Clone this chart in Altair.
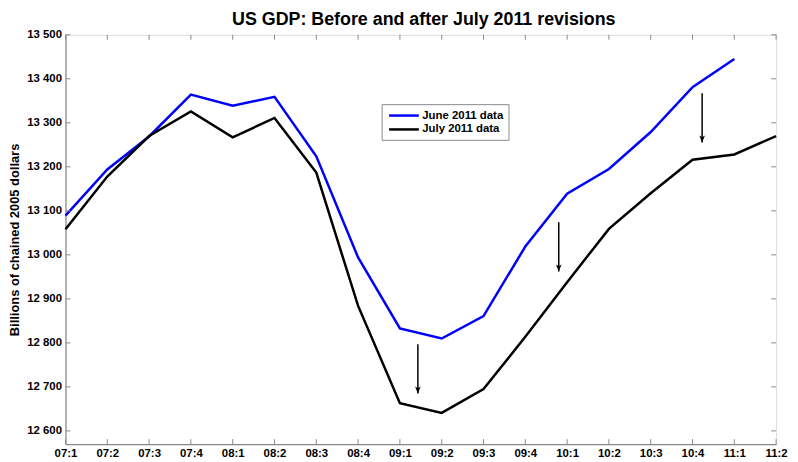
import json
import altair as alt
import pandas as pd

quarters = ["07:1", "07:2", "07:3", "07:4", "08:1", "08:2", "08:3", "08:4",
            "09:1", "09:2", "09:3", "09:4", "10:1", "10:2", "10:3", "10:4",
            "11:1", "11:2"]
june_2011 = [13089, 13194, 13269, 13364, 13339, 13359, 13224, 12994, 12833,
             12810, 12861, 13019, 13139, 13195, 13279, 13381, 13445]
july_2011 = [13058, 13178, 13270, 13326, 13267, 13311, 13187, 12884, 12663,
             12641, 12695, 12814, 12938, 13059, 13140, 13216, 13228, 13270]
series_names = ["June 2011 data", "July 2011 data"]
series_colors = ["#0000ff", "#000000"]

y_ticks = list(range(12600, 13501, 100))

# arrows: position (quarter index), start value, end value
arrow_x = [8.43, 11.8, 15.23]
arrow_from = [12797, 13074, 13367]
arrow_to = [12685, 12962, 13255]

rows = []
for i, v in enumerate(june_2011):
    rows.append({"idx": i, "value": v, "series": series_names[0]})
for i, v in enumerate(july_2011):
    rows.append({"idx": i, "value": v, "series": series_names[1]})
df = pd.DataFrame(rows)
arrows = pd.DataFrame({"ax": arrow_x, "y0": arrow_from, "y1": arrow_to})
ytick_df = pd.DataFrame({"yt": y_ticks})
xtick_df = pd.DataFrame({"xt": list(range(len(quarters)))})

W, H = 717, 413
FONT = "Liberation Sans"
GRAY = "#8a8a8a"
YTITLE = "Billions of chained 2005 dollars"

xscale = alt.Scale(domain=[0, len(quarters) - 1], nice=False, zero=False)
yscale = alt.Scale(domain=[12570, 13500], nice=False, zero=False)
label_expr = json.dumps(quarters) + "[datum.value]"

xaxis = alt.Axis(values=list(range(len(quarters))), labelExpr=label_expr,
                 ticks=False, labelPadding=3, labelFontSize=11.5,
                 labelFontWeight="bold", labelFont=FONT,
                 labelColor="#000", domainColor=GRAY, domainWidth=1.2,
                 grid=False, title=None, labelFlush=False)
yaxis = alt.Axis(values=y_ticks,
                 labelExpr="replace(format(datum.value, ','), ',', ' ')",
                 ticks=False, labelPadding=4, labelFontSize=11.5,
                 labelFontWeight="bold", labelFont=FONT,
                 labelColor="#000", domainColor=GRAY, domainWidth=1.2,
                 grid=False, title=YTITLE, titleFontSize=13, titleFont=FONT,
                 titleFontWeight="bold", titleColor="#000", titlePadding=5)

lines = alt.Chart(df).mark_line(strokeWidth=2.5).encode(
    x=alt.X("idx:Q", scale=xscale, axis=xaxis, title=None),
    y=alt.Y("value:Q", scale=yscale, axis=yaxis, title=YTITLE),
    color=alt.Color("series:N",
                    scale=alt.Scale(domain=series_names, range=series_colors),
                    legend=alt.Legend(orient="none", legendX=319, legendY=70,
                                      title=None,
                                      symbolType="M-3,0L3,0",
                                      symbolSize=100, symbolStrokeWidth=2.5,
                                      symbolOffset=11,
                                      labelFontSize=11.5, labelFontWeight="bold",
                                      labelFont=FONT,
                                      labelColor="#000", strokeColor=GRAY,
                                      fillColor="white", padding=5,
                                      rowPadding=2, labelOffset=12)),
    order="idx:Q",
)

shafts = alt.Chart(arrows).mark_rule(strokeWidth=1.5, color="#000").encode(
    x=alt.X("ax:Q", scale=xscale, title=None),
    y=alt.Y("y0:Q", scale=yscale, title=YTITLE),
    y2="y1:Q",
)
heads = alt.Chart(arrows).mark_point(
    shape="M-0.4,-1L0,0L0.4,-1L0,-0.75Z", size=200, filled=True,
    color="#000", opacity=1).encode(
    x=alt.X("ax:Q", scale=xscale, title=None),
    y=alt.Y("y1:Q", scale=yscale, title=YTITLE),
)

tl = alt.Chart(ytick_df).mark_rule(color=GRAY, strokeWidth=1).encode(
    y=alt.Y("yt:Q", scale=yscale, title=YTITLE), x=alt.value(0), x2=alt.value(5))
tr = alt.Chart(ytick_df).mark_rule(color=GRAY, strokeWidth=1).encode(
    y=alt.Y("yt:Q", scale=yscale, title=YTITLE), x=alt.value(W), x2=alt.value(W - 5))
tb = alt.Chart(xtick_df).mark_rule(color=GRAY, strokeWidth=1).encode(
    x=alt.X("xt:Q", scale=xscale, title=None), y=alt.value(H), y2=alt.value(H - 5))
tt = alt.Chart(xtick_df).mark_rule(color=GRAY, strokeWidth=1).encode(
    x=alt.X("xt:Q", scale=xscale, title=None), y=alt.value(0), y2=alt.value(5))

chart = alt.layer(lines, shafts, heads, tl, tr, tb, tt).properties(
    width=W, height=H,
    title=alt.TitleParams("US GDP: Before and after July 2011 revisions",
                          fontSize=18, fontWeight="bold", font=FONT,
                          anchor="middle", offset=0, dx=3, color="#000"),
    padding={"left": 58, "top": 25, "right": 14, "bottom": 13},
    autosize=alt.AutoSizeParams(type="none"),
).configure_view(stroke=GRAY, strokeWidth=1.2).configure(background="white")

chart.save("out.html", embed_options={"renderer": "svg", "actions": False})
